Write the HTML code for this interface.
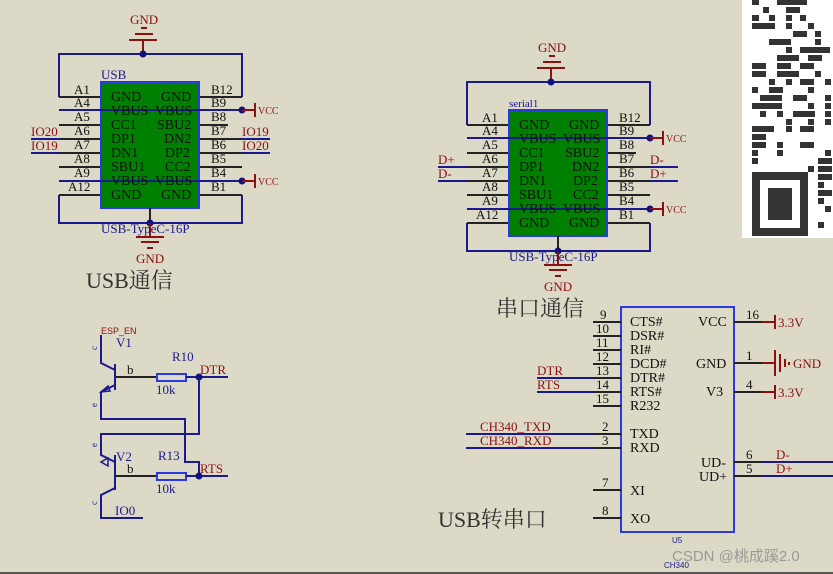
<!DOCTYPE html>
<html><head><meta charset="utf-8"><style>
html,body{margin:0;padding:0;background:#dcd9c7;}
svg{display:block;}
text{font-family:"Liberation Serif","Noto Serif CJK SC",serif;}
.k{stroke:#222;stroke-width:2;fill:none}
.b{stroke:#1a1a8c;stroke-width:2;fill:none}
.r{stroke:#8b1010;stroke-width:2;fill:none}
.pt{font-size:14px;fill:#111}
.pn{font-size:13px;fill:#111}
.rl{font-size:13px;fill:#8b1010}
.bl{font-size:13px;fill:#1a1a8c}
.bx{fill:#008000;stroke:#2a3ae0;stroke-width:2}
.big{font-size:22px;fill:#333;font-family:"Liberation Serif","Noto Serif CJK SC",serif}
</style></head><body>
<svg width="833" height="574" viewBox="0 0 833 574" xmlns="http://www.w3.org/2000/svg">
<rect width="833" height="574" fill="#dcd9c7"/>
<line x1="0" y1="573" x2="833" y2="573" stroke="#555" stroke-width="2"/>

<defs>
<g id="usbc">
  <text x="130" y="24" class="rl">GND</text>
  <line x1="141" y1="28" x2="147" y2="28" class="r"/>
  <line x1="135" y1="34" x2="153" y2="34" class="r"/>
  <line x1="129" y1="40" x2="157" y2="40" class="r"/>
  <line x1="143" y1="40" x2="143" y2="54" class="r"/>
  <polyline points="59,97 59,54 242,54 242,97" class="b"/>
  <circle cx="143" cy="54" r="3.5" fill="#101080"/>
  <g class="k">
    <line x1="59" y1="97" x2="101" y2="97"/><line x1="199" y1="97" x2="242" y2="97"/>
    <line x1="59" y1="125" x2="101" y2="125"/><line x1="199" y1="125" x2="228" y2="125"/>
    <line x1="59" y1="139" x2="101" y2="139"/><line x1="199" y1="139" x2="242" y2="139"/>
    <line x1="59" y1="153" x2="101" y2="153"/><line x1="199" y1="153" x2="242" y2="153"/>
    <line x1="59" y1="167" x2="101" y2="167"/><line x1="199" y1="167" x2="242" y2="167"/>
    <line x1="59" y1="195" x2="101" y2="195"/><line x1="199" y1="195" x2="242" y2="195"/>
  </g>
  <rect x="101" y="82" width="98" height="126" class="bx"/>
  <line x1="59" y1="110" x2="242" y2="110" class="b"/>
  <line x1="59" y1="181" x2="242" y2="181" class="b"/>
  <polyline points="59,195 59,223 242,223 242,195" class="b"/>
  <line x1="150" y1="208" x2="150" y2="223" class="k"/>
  <circle cx="150" cy="223" r="3.5" fill="#101080"/>
  <circle cx="242" cy="110" r="3.5" fill="#101080"/><line x1="242" y1="110" x2="255" y2="110" class="r"/><line x1="255" y1="103" x2="255" y2="117" class="r"/><text x="258" y="114" style="font-size:10px;fill:#8b1010">VCC</text>
  <circle cx="242" cy="181" r="3.5" fill="#101080"/><line x1="242" y1="181" x2="255" y2="181" class="r"/><line x1="255" y1="174" x2="255" y2="188" class="r"/><text x="258" y="185" style="font-size:10px;fill:#8b1010">VCC</text>
  <line x1="150" y1="223" x2="150" y2="237" class="r"/>
  <line x1="136" y1="237" x2="164" y2="237" class="r"/>
  <line x1="141" y1="242" x2="159" y2="242" class="r"/>
  <line x1="147" y1="248" x2="153" y2="248" class="r"/>
  <text x="136" y="263" class="rl">GND</text>
  <text x="101" y="233" class="bl">USB-TypeC-16P</text>
  <g class="pn">
    <text x="74" y="94">A1</text><text x="74" y="107">A4</text><text x="74" y="121">A5</text><text x="74" y="135">A6</text>
    <text x="74" y="149">A7</text><text x="74" y="163">A8</text><text x="74" y="177">A9</text><text x="68" y="191">A12</text>
    <text x="211" y="94">B12</text><text x="211" y="107">B9</text><text x="211" y="121">B8</text><text x="211" y="135">B7</text>
    <text x="211" y="149">B6</text><text x="211" y="163">B5</text><text x="211" y="177">B4</text><text x="211" y="191">B1</text>
  </g>
  <g class="pt">
    <text x="111" y="101">GND</text><text x="161" y="101">GND</text>
    <text x="111" y="115">VBUS</text><text x="155" y="115">VBUS</text>
    <text x="111" y="129">CC1</text><text x="157" y="129">SBU2</text>
    <text x="111" y="143">DP1</text><text x="164" y="143">DN2</text>
    <text x="111" y="157">DN1</text><text x="165" y="157">DP2</text>
    <text x="111" y="171">SBU1</text><text x="165" y="171">CC2</text>
    <text x="111" y="185">VBUS</text><text x="155" y="185">VBUS</text>
    <text x="111" y="199">GND</text><text x="161" y="199">GND</text>
  </g>
</g>
</defs>

<use href="#usbc"/>
<text x="101" y="79" class="bl">USB</text>
<line x1="31" y1="139" x2="59" y2="139" class="b"/><text x="31" y="136" class="rl">IO20</text>
<line x1="31" y1="153" x2="59" y2="153" class="b"/><text x="31" y="150" class="rl">IO19</text>
<line x1="242" y1="139" x2="270" y2="139" class="b"/><text x="242" y="136" class="rl">IO19</text>
<line x1="242" y1="153" x2="270" y2="153" class="b"/><text x="242" y="150" class="rl">IO20</text>
<text x="86" y="288" class="big">USB通信</text>

<g transform="translate(408,28)"><use href="#usbc"/></g>
<text x="509" y="107" style="font-size:11px;fill:#1a1a8c">serial1</text>
<line x1="438" y1="167" x2="467" y2="167" class="b"/><text x="438" y="164" class="rl">D+</text>
<line x1="438" y1="181" x2="467" y2="181" class="b"/><text x="438" y="178" class="rl">D-</text>
<line x1="650" y1="167" x2="678" y2="167" class="b"/><text x="650" y="164" class="rl">D-</text>
<line x1="650" y1="181" x2="678" y2="181" class="b"/><text x="650" y="178" class="rl">D+</text>
<text x="496" y="316" class="big">串口通信</text>

<rect x="742" y="0" width="91" height="238" fill="#fff"/>
<g fill="#333">
<rect x="752" y="0" width="7" height="5"/><rect x="777" y="0" width="30" height="5"/>
<rect x="763" y="7" width="6" height="6"/><rect x="786" y="7" width="14" height="6"/>
<rect x="752" y="15" width="7" height="6"/><rect x="769" y="15" width="6" height="6"/><rect x="786" y="15" width="6" height="6"/><rect x="800" y="15" width="6" height="6"/>
<rect x="752" y="23" width="23" height="6"/><rect x="786" y="23" width="6" height="6"/><rect x="808" y="23" width="6" height="6"/>
<rect x="793" y="31" width="14" height="6"/><rect x="815" y="31" width="6" height="6"/>
<rect x="769" y="39" width="22" height="6"/><rect x="815" y="39" width="6" height="6"/>
<rect x="786" y="47" width="6" height="6"/><rect x="800" y="47" width="30" height="6"/>
<rect x="777" y="55" width="22" height="6"/><rect x="808" y="55" width="14" height="6"/>
<rect x="752" y="63" width="14" height="6"/><rect x="777" y="63" width="14" height="6"/><rect x="800" y="63" width="14" height="6"/>
<rect x="752" y="71" width="14" height="6"/><rect x="777" y="71" width="22" height="6"/><rect x="815" y="71" width="6" height="6"/>
<rect x="769" y="79" width="6" height="6"/><rect x="786" y="79" width="6" height="6"/><rect x="800" y="79" width="14" height="6"/><rect x="825" y="79" width="6" height="6"/>
<rect x="752" y="87" width="6" height="6"/><rect x="769" y="87" width="14" height="6"/><rect x="808" y="87" width="6" height="6"/>
<rect x="760" y="95" width="22" height="6"/><rect x="793" y="95" width="14" height="6"/><rect x="825" y="95" width="6" height="6"/>
<rect x="752" y="103" width="30" height="6"/><rect x="808" y="103" width="6" height="6"/><rect x="825" y="103" width="6" height="6"/>
<rect x="760" y="111" width="6" height="6"/><rect x="777" y="111" width="6" height="6"/><rect x="793" y="111" width="22" height="6"/><rect x="825" y="111" width="6" height="6"/>
<rect x="786" y="119" width="6" height="6"/><rect x="808" y="119" width="6" height="6"/><rect x="825" y="119" width="6" height="6"/>
<rect x="752" y="126" width="22" height="6"/><rect x="786" y="126" width="6" height="6"/><rect x="800" y="126" width="14" height="6"/>
<rect x="752" y="134" width="14" height="6"/>
<rect x="752" y="142" width="14" height="6"/><rect x="777" y="142" width="6" height="6"/><rect x="800" y="142" width="14" height="6"/>
<rect x="752" y="150" width="6" height="6"/><rect x="777" y="150" width="6" height="6"/><rect x="825" y="150" width="6" height="6"/>
<rect x="752" y="158" width="6" height="6"/><rect x="818" y="158" width="14" height="6"/>
<rect x="808" y="166" width="6" height="6"/><rect x="818" y="166" width="14" height="6"/>
<rect x="818" y="174" width="14" height="6"/><rect x="818" y="182" width="6" height="6"/><rect x="818" y="190" width="14" height="6"/><rect x="818" y="198" width="6" height="6"/>
<rect x="825" y="206" width="6" height="6"/><rect x="818" y="222" width="6" height="6"/>
</g>
<rect x="752" y="172" width="56" height="64" fill="#333"/>
<rect x="760" y="180" width="40" height="48" fill="#fff"/>
<rect x="768" y="188" width="24" height="32" fill="#333"/>

<text x="101" y="334" style="font-size:9px;fill:#8b1010;font-family:'Liberation Sans',sans-serif">ESP_EN</text>
<text x="116" y="347" class="bl">V1</text>
<text x="172" y="361" class="bl">R10</text>
<polyline points="101,335 101,363 115,370" class="b"/>
<line x1="115" y1="364" x2="115" y2="390" class="b"/>
<polyline points="115,385 101,392 101,419 185,419 185,462 199,462 199,476" class="b"/>
<polygon points="101,392 108,386 110,391" fill="none" stroke="#1a1a8c" stroke-width="1.5"/>
<text x="127" y="374" class="pn">b</text>
<line x1="115" y1="377" x2="157" y2="377" class="k"/>
<rect x="157" y="374" width="29" height="7" fill="none" stroke="#2a3ae0" stroke-width="2"/>
<line x1="186" y1="377" x2="228" y2="377" class="b"/>
<circle cx="199" cy="377" r="3.5" fill="#101080"/>
<text x="200" y="374" class="rl">DTR</text>
<text x="156" y="394" class="bl">10k</text>
<polyline points="199,377 199,434 101,434 101,455 115,462" class="b"/>
<polygon points="101,462 108,466 108,458" fill="none" stroke="#1a1a8c" stroke-width="1.5"/>
<line x1="115" y1="455" x2="115" y2="490" class="b"/>
<text x="116" y="461" class="bl">V2</text>
<text x="158" y="460" class="bl">R13</text>
<text x="127" y="473" class="pn">b</text>
<line x1="115" y1="476" x2="157" y2="476" class="k"/>
<rect x="157" y="473" width="29" height="7" fill="none" stroke="#2a3ae0" stroke-width="2"/>
<line x1="186" y1="476" x2="228" y2="476" class="b"/>
<circle cx="199" cy="476" r="3.5" fill="#101080"/>
<text x="200" y="473" class="rl">RTS</text>
<text x="156" y="493" class="bl">10k</text>
<polyline points="115,488 101,495 101,518 143,518" class="b"/>
<text x="115" y="515" class="bl">IO0</text>
<g style="font-size:9px;fill:#1a1a8c" font-family="Liberation Sans">
<text x="97" y="350" transform="rotate(-90 97 350)">c</text>
<text x="97" y="407" transform="rotate(-90 97 407)">e</text>
<text x="97" y="447" transform="rotate(-90 97 447)">e</text>
<text x="97" y="505" transform="rotate(-90 97 505)">c</text>
</g>

<rect x="621" y="307" width="113" height="225" fill="none" stroke="#2a3ae0" stroke-width="2"/>
<g class="k">
<line x1="593" y1="322" x2="621" y2="322"/><line x1="593" y1="336" x2="621" y2="336"/>
<line x1="593" y1="350" x2="621" y2="350"/><line x1="593" y1="364" x2="621" y2="364"/>
<line x1="593" y1="378" x2="621" y2="378"/><line x1="593" y1="392" x2="621" y2="392"/>
<line x1="593" y1="406" x2="621" y2="406"/><line x1="593" y1="434" x2="621" y2="434"/>
<line x1="593" y1="448" x2="621" y2="448"/><line x1="593" y1="490" x2="621" y2="490"/>
<line x1="593" y1="518" x2="621" y2="518"/>
<line x1="734" y1="322" x2="762" y2="322"/><line x1="734" y1="363" x2="762" y2="363"/>
<line x1="734" y1="392" x2="762" y2="392"/><line x1="734" y1="462" x2="762" y2="462"/>
<line x1="734" y1="476" x2="762" y2="476"/>
</g>
<g class="pn">
<text x="600" y="319">9</text><text x="596" y="333">10</text><text x="596" y="347">11</text><text x="596" y="361">12</text>
<text x="596" y="375">13</text><text x="596" y="389">14</text><text x="596" y="403">15</text><text x="602" y="431">2</text>
<text x="602" y="445">3</text><text x="602" y="487">7</text><text x="602" y="515">8</text>
<text x="746" y="319">16</text><text x="746" y="360">1</text><text x="746" y="389">4</text>
<text x="746" y="459">6</text><text x="746" y="473">5</text>
</g>
<g class="pt">
<text x="630" y="326">CTS#</text><text x="630" y="340">DSR#</text><text x="630" y="354">RI#</text><text x="630" y="368">DCD#</text>
<text x="630" y="382">DTR#</text><text x="630" y="396">RTS#</text><text x="630" y="410">R232</text>
<text x="630" y="438">TXD</text><text x="630" y="452">RXD</text><text x="630" y="495">XI</text><text x="630" y="523">XO</text>
<text x="698" y="326">VCC</text><text x="696" y="368">GND</text><text x="706" y="396">V3</text>
<text x="701" y="467">UD-</text><text x="699" y="481">UD+</text>
</g>
<line x1="762" y1="322" x2="775" y2="322" class="r"/><line x1="775" y1="315" x2="775" y2="329" class="r"/><text x="778" y="327" class="rl">3.3V</text>
<line x1="762" y1="392" x2="775" y2="392" class="r"/><line x1="775" y1="385" x2="775" y2="399" class="r"/><text x="778" y="397" class="rl">3.3V</text>
<line x1="762" y1="363" x2="775" y2="363" class="r"/><line x1="775" y1="350" x2="775" y2="376" class="r"/><line x1="780" y1="354" x2="780" y2="372" class="r"/><line x1="785" y1="359" x2="785" y2="367" class="r"/><line x1="789" y1="362" x2="789" y2="365" class="r"/>
<text x="793" y="368" class="rl">GND</text>
<line x1="762" y1="462" x2="833" y2="462" class="b"/><text x="776" y="459" class="rl">D-</text>
<line x1="762" y1="476" x2="833" y2="476" class="b"/><text x="776" y="473" class="rl">D+</text>
<line x1="537" y1="378" x2="593" y2="378" class="b"/><text x="537" y="375" class="rl">DTR</text>
<line x1="537" y1="392" x2="593" y2="392" class="b"/><text x="537" y="389" class="rl">RTS</text>
<line x1="466" y1="434" x2="593" y2="434" class="b"/><text x="480" y="431" class="rl">CH340_TXD</text>
<line x1="466" y1="448" x2="593" y2="448" class="b"/><text x="480" y="445" class="rl">CH340_RXD</text>
<text x="438" y="527" class="big">USB转串口</text>
<text x="672" y="543" style="font-size:8px;fill:#1a1a8c;font-family:'Liberation Sans',sans-serif">U5</text>
<text x="664" y="568" style="font-size:8px;fill:#1a1a8c;font-family:'Liberation Sans',sans-serif">CH340</text>
<text x="672" y="561" style="font-size:15px;fill:#999;font-family:'Liberation Sans','Noto Sans CJK SC',sans-serif">CSDN @桃成蹊2.0</text>
</svg>
</body></html>
